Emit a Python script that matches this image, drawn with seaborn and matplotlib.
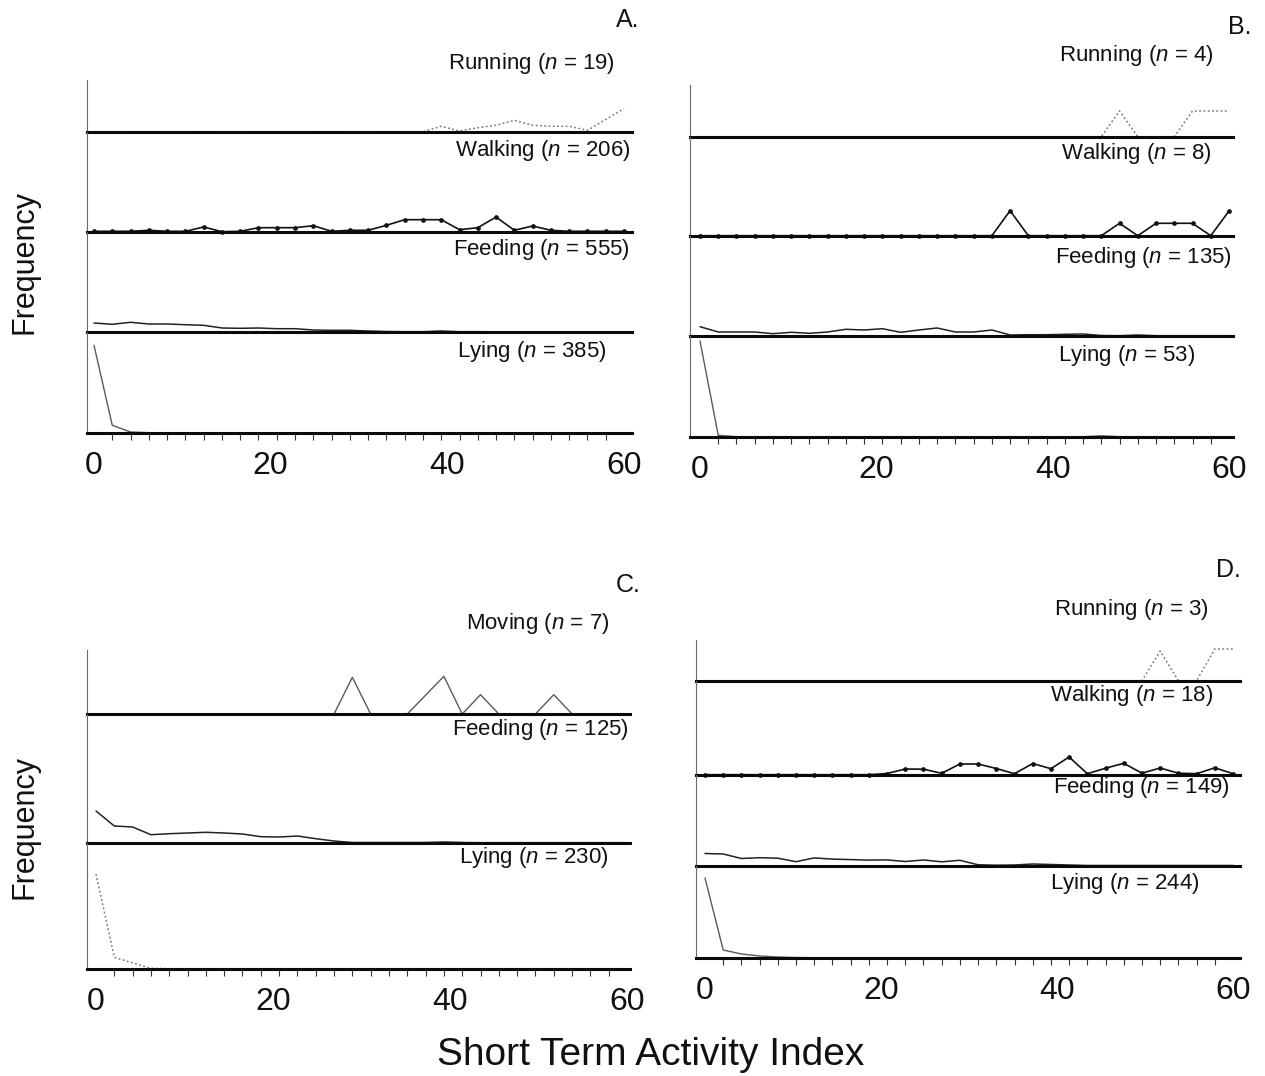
import numpy as np
import matplotlib
matplotlib.use("Agg")
import matplotlib.pyplot as plt
import seaborn as sns
from matplotlib.ticker import FixedLocator, NullFormatter

sns.set_theme(style="white")
plt.rcParams["font.family"] = ["Liberation Sans", "DejaVu Sans"]
plt.rcParams["mathtext.fontset"] = "custom"
plt.rcParams["mathtext.it"] = "Liberation Sans:italic"
plt.rcParams["mathtext.rm"] = "Liberation Sans"

W, H = 1265, 1076

# 30 activity-index classes spanning 0-60
activity_index = np.linspace(0, 60, 30)
tick_labels = ["0", "20", "40", "60"]

# ---- Panel A ----
a_running = [0.003, 0.003, 0.003, 0.003, 0.003, 0.003, 0.003, 0.003, 0.003, 0.003,
             0.003, 0.003, 0.003, 0.003, 0.003, 0.003, 0.003, 0.003, 0.003, 0.057,
             0.01, 0.043, 0.067, 0.117, 0.067, 0.057, 0.057, 0.017, 0.125, 0.233]
a_walking = [0.007, 0.007, 0.007, 0.017, 0.007, 0.007, 0.05, 0.003, 0.007, 0.043,
             0.043, 0.043, 0.063, 0.007, 0.017, 0.017, 0.067, 0.123, 0.123, 0.123,
             0.023, 0.043, 0.15, 0.017, 0.06, 0.017, 0.007, 0.007, 0.007, 0.007]
a_feeding = [0.09, 0.077, 0.097, 0.08, 0.08, 0.073, 0.067, 0.04, 0.037, 0.04,
             0.033, 0.033, 0.02, 0.017, 0.017, 0.01, 0.005, 0.003, 0.003, 0.01,
             0.003, 0.003, 0.002, 0.002, 0.002, 0.002, 0.002, 0.002, 0.002, 0.002]
a_lying = [0.877, 0.077, 0.01, 0.003, 0.003, 0.003, 0.003, 0.003, 0.003, 0.003,
           0.003, 0.003, 0.003, 0.003, 0.003, 0.003, 0.003, 0.003, 0.003, 0.003,
           0.003, 0.003, 0.003, 0.003, 0.003, 0.003, 0.003, 0.003, 0.003, 0.003]

# ---- Panel B ----
b_running = [0.003, 0.003, 0.003, 0.003, 0.003, 0.003, 0.003, 0.003, 0.003, 0.003,
             0.003, 0.003, 0.003, 0.003, 0.003, 0.003, 0.003, 0.003, 0.003, 0.003,
             0.003, 0.003, 0.003, 0.26, 0.003, 0.003, 0.003, 0.26, 0.26, 0.26]
b_walking = [0.003, 0.003, 0.003, 0.003, 0.003, 0.003, 0.003, 0.003, 0.003, 0.003,
             0.003, 0.003, 0.003, 0.003, 0.003, 0.003, 0.003, 0.253, 0.003, 0.003,
             0.003, 0.003, 0.003, 0.127, 0.003, 0.127, 0.127, 0.127, 0.003, 0.25]
b_feeding = [0.093, 0.04, 0.04, 0.04, 0.023, 0.037, 0.027, 0.04, 0.067, 0.06,
             0.073, 0.037, 0.06, 0.08, 0.04, 0.04, 0.06, 0.01, 0.013, 0.013,
             0.017, 0.02, 0.005, 0.003, 0.01, 0.003, 0.003, 0.003, 0.003, 0.003]
b_lying = [0.96, 0.017, 0.003, 0.003, 0.003, 0.003, 0.003, 0.003, 0.003, 0.003,
           0.003, 0.003, 0.003, 0.003, 0.003, 0.003, 0.003, 0.003, 0.003, 0.003,
           0.003, 0.003, 0.012, 0.003, 0.003, 0.003, 0.003, 0.003, 0.003, 0.003]

# ---- Panel C ----
c_moving = [0.0, 0.0, 0.0, 0.0, 0.0, 0.0, 0.0, 0.0, 0.0, 0.0,
            0.0, 0.0, 0.0, 0.0, 0.367, 0.0, 0.0, 0.0, 0.188, 0.377,
            0.0, 0.193, 0.0, 0.0, 0.0, 0.193, 0.0, 0.0, 0.0, 0.0]
c_feeding = [0.32, 0.17, 0.16, 0.083, 0.093, 0.1, 0.107, 0.1, 0.09, 0.063,
             0.06, 0.07, 0.043, 0.02, 0.005, 0.005, 0.005, 0.005, 0.005, 0.01,
             0.005, 0.003, 0.003, 0.003, 0.003, 0.003, 0.003, 0.003, 0.003, 0.003]
c_lying = [0.95, 0.117, 0.06, 0.007, 0.003, 0.003, 0.003, 0.003, 0.003, 0.003,
           0.003, 0.003, 0.003, 0.003, 0.003, 0.003, 0.003, 0.003, 0.003, 0.003,
           0.003, 0.003, 0.003, 0.003, 0.003, 0.003, 0.003, 0.003, 0.003, 0.003]

# ---- Panel D ----
d_running = [0.003, 0.003, 0.003, 0.003, 0.003, 0.003, 0.003, 0.003, 0.003, 0.003,
             0.003, 0.003, 0.003, 0.003, 0.003, 0.003, 0.003, 0.003, 0.003, 0.003,
             0.003, 0.003, 0.003, 0.003, 0.003, 0.3, 0.003, 0.003, 0.32, 0.32]
d_walking = [0.003, 0.003, 0.003, 0.003, 0.003, 0.003, 0.003, 0.003, 0.003, 0.003,
             0.015, 0.06, 0.058, 0.017, 0.11, 0.11, 0.065, 0.013, 0.115, 0.063,
             0.18, 0.013, 0.068, 0.117, 0.018, 0.07, 0.018, 0.013, 0.072, 0.013]
d_feeding = [0.125, 0.12, 0.075, 0.083, 0.078, 0.043, 0.081, 0.069, 0.064, 0.059,
             0.061, 0.045, 0.06, 0.042, 0.057, 0.012, 0.008, 0.01, 0.02, 0.015,
             0.01, 0.005, 0.005, 0.005, 0.005, 0.005, 0.005, 0.005, 0.005, 0.005]
d_lying = [0.8, 0.08, 0.04, 0.02, 0.01, 0.005, 0.003, 0.003, 0.003, 0.003,
           0.003, 0.003, 0.003, 0.003, 0.003, 0.003, 0.003, 0.003, 0.003, 0.003,
           0.003, 0.003, 0.003, 0.003, 0.003, 0.003, 0.003, 0.003, 0.003, 0.003]

# line styles
DOTTED = dict(color="#7a7a7a", linewidth=1.1, linestyle=(0, (1.2, 1.6)))
DOTS = dict(color="#111111", linewidth=1.2, marker="o", markersize=3.4,
            markeredgewidth=0)
DARK = dict(color="#222222", linewidth=1.1)
GREY = dict(color="#5a5a5a", linewidth=1.0)

# panel layout in pixels: spine x, right end, x of 0 and of 60, spine top,
# band baselines
panels = [
    dict(letter="A.", letter_xy=(628, 20), x0=87, x1=632, p0=94, p60=624,
         top=80, bases=[132, 232, 332, 433],
         series=[(a_running, DOTTED), (a_walking, DOTS), (a_feeding, DARK),
                 (a_lying, GREY)],
         labels=[("Running ($\\it{n}$ = 19)", 615, 63),
                 ("Walking ($\\it{n}$ = 206)", 631, 150),
                 ("Feeding ($\\it{n}$ = 555)", 630, 250),
                 ("Lying ($\\it{n}$ = 385)", 607, 352)]),
    dict(letter="B.", letter_xy=(1240, 27), x0=690, x1=1233, p0=700, p60=1229,
         top=85, bases=[137, 236, 336, 437],
         series=[(b_running, DOTTED), (b_walking, DOTS), (b_feeding, DARK),
                 (b_lying, GREY)],
         labels=[("Running ($\\it{n}$ = 4)", 1214, 55),
                 ("Walking ($\\it{n}$ = 8)", 1212, 153),
                 ("Feeding ($\\it{n}$ = 135)", 1232, 257),
                 ("Lying ($\\it{n}$ = 53)", 1195, 355)]),
    dict(letter="C.", letter_xy=(628, 585), x0=87, x1=630, p0=96, p60=627,
         top=650, bases=[714, 843, 969],
         series=[(c_moving, GREY), (c_feeding, DARK), (c_lying, DOTTED)],
         labels=[("Moving ($\\it{n}$ = 7)", 609, 623),
                 ("Feeding ($\\it{n}$ = 125)", 629, 729),
                 ("Lying ($\\it{n}$ = 230)", 609, 857)]),
    dict(letter="D.", letter_xy=(1228, 570), x0=696, x1=1240, p0=705, p60=1233,
         top=640, bases=[681, 775, 866, 958],
         series=[(d_running, DOTTED), (d_walking, DOTS), (d_feeding, DARK),
                 (d_lying, GREY)],
         labels=[("Running ($\\it{n}$ = 3)", 1209, 610),
                 ("Walking ($\\it{n}$ = 18)", 1213, 696),
                 ("Feeding ($\\it{n}$ = 149)", 1230, 788),
                 ("Lying ($\\it{n}$ = 244)", 1200, 883)]),
]

PX_PER_UNIT = 100.0  # vertical scale shared by every band

fig = plt.figure(figsize=(W / 100, H / 100), dpi=100)


def fx(x):
    return x / W


def fy(y):
    return 1 - y / H


for p in panels:
    scale = (p["p60"] - p["p0"]) / 60.0
    xlim = ((p["x0"] - p["p0"]) / scale, 60 + (p["x1"] - p["p60"]) / scale)
    tops = [p["top"]] + p["bases"][:-1]
    n = len(p["bases"])
    for k, (ytop, ybot, (vals, style)) in enumerate(zip(tops, p["bases"], p["series"])):
        ax = fig.add_axes([fx(p["x0"]), fy(ybot), (p["x1"] - p["x0"]) / W,
                           (ybot - ytop) / H])
        ax.set_facecolor("none")
        sns.lineplot(x=activity_index, y=vals, ax=ax, legend=False, **style)
        for ln in ax.lines:
            ln.set_clip_on(False)
        ax.set_xlim(*xlim)
        ax.set_ylim(0, (ybot - ytop) / PX_PER_UNIT)
        ax.set_xlabel("")
        ax.set_ylabel("")
        ax.set_yticks([])
        for side in ("top", "right"):
            ax.spines[side].set_visible(False)
        ax.spines["left"].set_color("#6a6a6a")
        ax.spines["left"].set_linewidth(0.8)
        ax.spines["bottom"].set_color("#0a0a0a")
        ax.spines["bottom"].set_linewidth(2.2)
        if k == n - 1:
            ax.xaxis.set_major_locator(FixedLocator([0, 20, 40, 60]))
            ax.set_xticklabels(tick_labels)
            ax.xaxis.set_minor_locator(FixedLocator(activity_index))
            ax.xaxis.set_minor_formatter(NullFormatter())
            ax.tick_params(axis="x", which="major", length=0, pad=13,
                           labelsize=23, labelcolor="#111111")
            ax.tick_params(axis="x", which="minor", bottom=True, length=5,
                           width=0.8, color="#333333", direction="out")
        else:
            ax.set_xticks([])
    for text, xr, yc in p["labels"]:
        fig.text(fx(xr), fy(yc), text, ha="right", va="center", fontsize=16,
                 color="#111111")
    lx, ly = p["letter_xy"]
    fig.text(fx(lx), fy(ly), p["letter"], ha="center", va="center",
             fontsize=18, color="#111111")

for yc in (262, 827):
    fig.text(fx(25), fy(yc), "Frequency", rotation=90, ha="center",
             va="center", fontsize=22, color="#111111")

fig.text(fx(651), fy(1055), "Short Term Activity Index", ha="center",
         va="center", fontsize=28, color="#111111")

fig.savefig("out.png", dpi=100, facecolor="white")
